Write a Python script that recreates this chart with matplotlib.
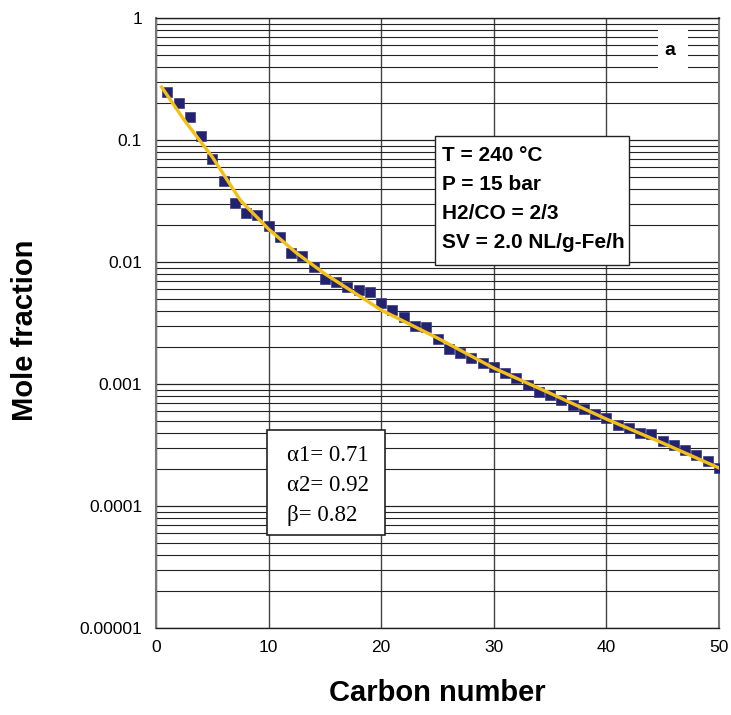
import matplotlib
matplotlib.use('Agg')
import matplotlib.pyplot as plt
import matplotlib.ticker as mticker
from matplotlib.patches import Rectangle
import numpy as np

plt.rcParams['font.family'] = ['Liberation Sans', 'DejaVu Sans']

carbon_number = np.arange(1, 51)
mole_fraction = [0.247, 0.200, 0.154, 0.108, 0.070, 0.046, 0.0305, 0.0252, 0.0243, 0.0197,
                 0.0160, 0.0119, 0.0112, 0.0091, 0.00726, 0.00686, 0.00624, 0.00589, 0.00568, 0.00461,
                 0.00404, 0.00354, 0.00299, 0.00293, 0.00234, 0.00194, 0.00180, 0.00163, 0.00149, 0.00138,
                 0.00123, 0.00112, 0.00098, 0.00086, 0.00081, 0.00074, 0.00067, 0.00062, 0.00057, 0.000526,
                 0.000461, 0.000435, 0.000396, 0.000389, 0.000341, 0.000316, 0.000288, 0.000262, 0.000234, 0.000205]

# fitted curve
fit_n = [0.5, 2.5, 5, 7.5, 10, 12.5, 15, 20, 25, 30, 35, 40, 45, 50]
fit_y = [0.272, 0.146, 0.0726, 0.0320, 0.0186, 0.0118, 0.0080, 0.00404, 0.00238, 0.00135,
         0.00084, 0.000516, 0.000328, 0.000205]

conditions = ['T = 240 °C', 'P = 15 bar', 'H2/CO = 2/3', 'SV = 2.0 NL/g-Fe/h']
params = ['α1= 0.71', 'α2= 0.92', 'β= 0.82']

fig = plt.figure(figsize=(7.31, 7.15), dpi=100)
ax = fig.add_axes([0.2134, 0.1217, 0.7702, 0.8531])

ax.set_yscale('log')
ax.set_xlim(0, 50)
ax.set_ylim(1e-5, 1)
ax.set_xticks([0, 10, 20, 30, 40, 50])
ax.yaxis.set_major_locator(mticker.LogLocator(base=10, numticks=10))
ax.yaxis.set_minor_locator(mticker.LogLocator(base=10, subs=np.arange(2, 10), numticks=20))
ax.yaxis.set_major_formatter(mticker.FuncFormatter(lambda v, p: ('%.5f' % v).rstrip('0').rstrip('.')))
ax.yaxis.set_minor_formatter(mticker.NullFormatter())
ax.tick_params(which='both', length=0, labelsize=12.5)
ax.tick_params(axis='x', pad=9)
ax.tick_params(axis='y', pad=10)

ax.grid(True, which='major', axis='y', color='#222222', lw=0.9)
ax.grid(True, which='minor', axis='y', color='#222222', lw=0.8)
ax.grid(True, which='major', axis='x', color='#444444', lw=1.0)
ax.set_axisbelow(True)
for s in ['left', 'right']:
    ax.spines[s].set_color('#777777')
    ax.spines[s].set_linewidth(1.5)
for s in ['top', 'bottom']:
    ax.spines[s].set_color('#222222')
    ax.spines[s].set_linewidth(1.0)

ax.plot(carbon_number, mole_fraction, 's', color='#22226e', ms=7.8, mec='#3a3a88', mew=0.5, zorder=3)
ax.plot(fit_n, fit_y, '-', color='#f2c016', lw=2.4, zorder=4)

ax.set_xlabel('Carbon number', fontsize=21, fontweight='bold')
ax.set_ylabel('Mole fraction', fontsize=21, fontweight='bold')
ax.xaxis.set_label_coords(0.5, -0.083)
ax.yaxis.set_label_coords(-0.208, 0.4885)

# condition box
ax.add_patch(Rectangle((0.4956, 0.595), 0.344, 0.2116, transform=ax.transAxes,
                       facecolor='white', edgecolor='#222222', lw=1.0, zorder=5))
for i, t in enumerate(conditions):
    ax.text(0.5085, 0.7738 - i * 0.0475, t, transform=ax.transAxes, fontsize=15,
            fontweight='bold', va='center', ha='left', zorder=6)

# parameter box
ax.add_patch(Rectangle((0.197, 0.1525), 0.21, 0.1721, transform=ax.transAxes,
                       facecolor='white', edgecolor='#222222', lw=1.2, zorder=5))
for i, t in enumerate(params):
    ax.text(0.232, 0.2820 - i * 0.0490, t, transform=ax.transAxes, fontsize=16.5,
            family=['Liberation Serif', 'DejaVu Serif'], va='center', ha='left', zorder=6)

# panel label
ax.add_patch(Rectangle((0.8916, 0.9066), 0.0533, 0.077, transform=ax.transAxes,
                       facecolor='white', edgecolor='none', zorder=5))
ax.text(0.9130, 0.9475, 'a', transform=ax.transAxes, fontsize=14, fontweight='bold',
        va='center', ha='center', zorder=6)

plt.savefig('out.png', dpi=100)
